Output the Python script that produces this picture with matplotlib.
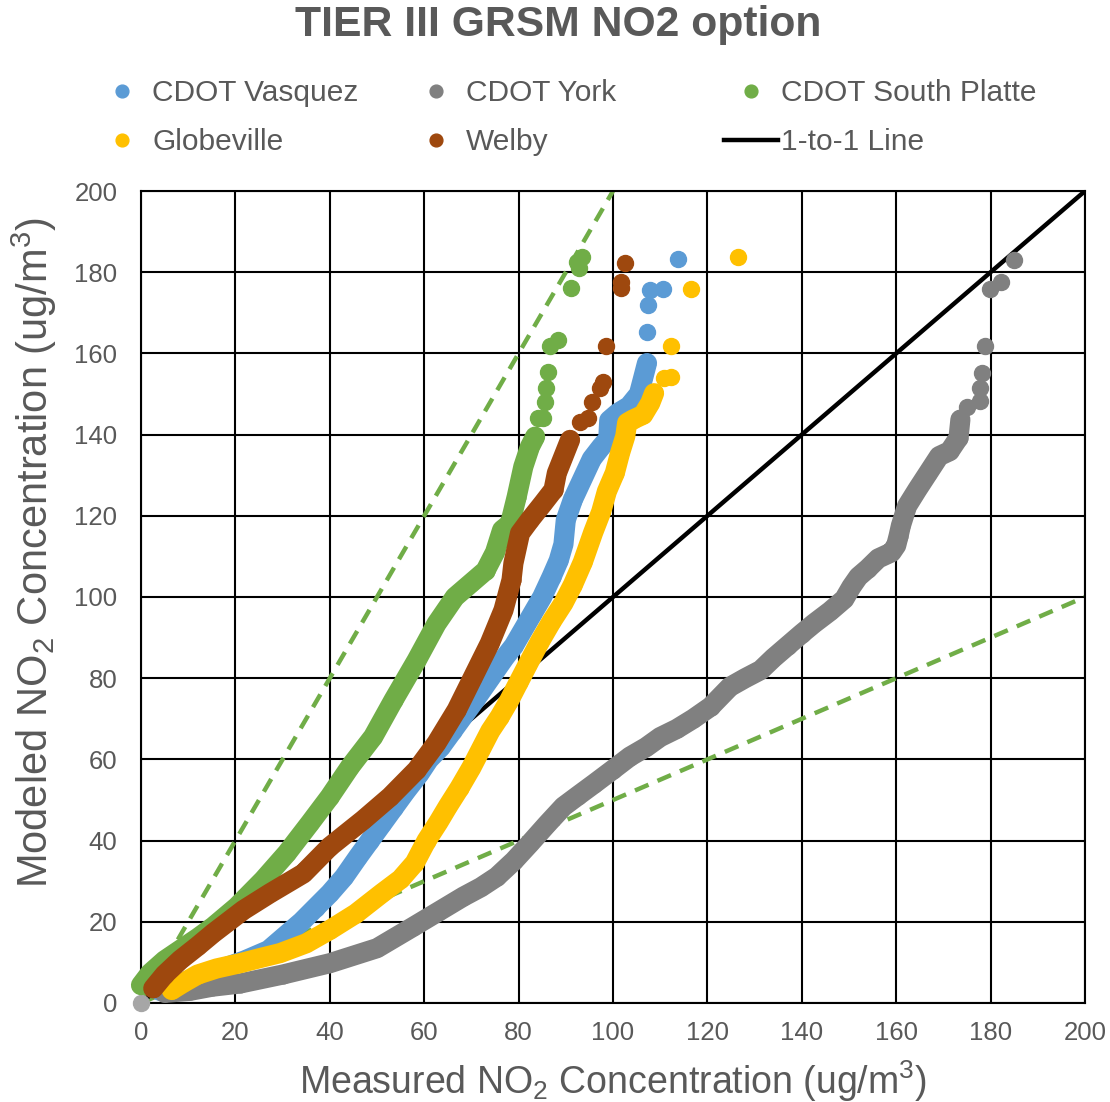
import matplotlib
matplotlib.use("Agg")
import matplotlib.pyplot as plt

plt.rcParams['font.family'] = ['Liberation Sans', 'DejaVu Sans']
plt.rcParams['mathtext.fontset'] = 'custom'
plt.rcParams['mathtext.rm'] = 'Liberation Sans'
plt.rcParams['mathtext.it'] = 'Liberation Sans:italic'
plt.rcParams['mathtext.bf'] = 'Liberation Sans:bold'

TEXT = '#595959'

# ---- Quantile pairs (measured, modeled) in ug/m3 ----
# dense: the continuous run of quantiles; top: the isolated highest quantiles
vasquez_x = [4, 10, 16, 22, 27, 31, 34, 37, 40, 43, 46, 48.5, 51, 53.5, 56, 59, 61, 63.5, 66, 68.5,
             71, 74, 77, 79, 81, 83, 85, 87, 88.5, 89.5, 90, 91.5, 93.5, 95.5, 97.5, 99, 99.2, 101,
             103.4, 105.5, 106.4, 107.2]
vasquez_y = [3, 5.5, 8, 10.5, 13, 17, 20, 23.5, 27, 31, 36, 40, 44, 48, 52, 56.5, 60, 63, 67, 71,
             75, 80, 85, 88, 92, 96, 100, 105, 109, 113, 119, 124, 129, 134, 137, 139, 143.5, 145.3,
             147, 150, 154, 157.6]
vasquez_top_x = [107.2, 107.5, 107.8, 110.6, 113.7]
vasquez_top_y = [165.3, 171.8, 175.5, 175.8, 183.3]

york_x = [5, 10.4, 15, 21, 30, 40, 50, 57.7, 63, 68.3, 72, 75.4, 79, 82.4, 86, 89.5, 92.5, 96, 100,
          103.6, 107, 110, 113.5, 117, 120.7, 124.8, 128, 131.3, 134, 137, 140, 142.6, 146, 149,
          150.5, 152, 154, 156.2, 159, 160, 160.5, 161, 162.3, 164.5, 166.8, 169.1, 171.3, 173.2,
          173.6]
york_y = [2.5, 3, 4, 4.8, 7, 9.8, 13.5, 18.8, 22.5, 26.2, 28.5, 31.1, 35, 39.3, 44, 48.4, 51, 54,
          57.5, 60.7, 63, 65.5, 67.5, 70, 73, 77.9, 80, 82, 85, 88, 91, 93.5, 96.5, 99.5, 102.5, 105,
          107, 109.5, 111, 112.7, 115, 117.6, 122.4, 126.5, 130.6, 134.7, 135.9, 139.2, 143.7]
york_top_x = [175.1, 177.7, 177.7, 178.1, 178.9, 179.8, 182.3, 184.9]
york_top_y = [146.9, 148.2, 151.4, 155.1, 161.8, 175.8, 177.6, 183.1]
york_min_x = [0]
york_min_y = [0]

platte_x = [0, 1.9, 5, 8.3, 12, 15.3, 20.3, 25.9, 30.9, 35.8, 40, 44.3, 49.2, 53.5, 58.4, 62.6,
            66.5, 70, 73, 75, 76.5, 78.2, 79.6, 81, 82.4, 83.5]
platte_y = [4.4, 7.3, 10.5, 13.1, 16, 18.8, 23.7, 30.3, 36.9, 44.3, 50.8, 58.2, 65.6, 74.6, 84.4,
            93.4, 100, 103.5, 106.5, 111, 116.5, 118.1, 124.7, 132.1, 137, 139.5]
platte_top_x = [84.2, 85.2, 85.6, 85.8, 86.3, 86.7, 88.4, 91, 92.7, 92.3, 93.4]
platte_top_y = [144, 144, 148.1, 151.4, 155.5, 161.7, 163.3, 176, 181, 182.6, 183.8]

globe_x = [6.5, 9, 12, 16, 21, 25, 29.5, 35, 40, 45.5, 51, 55, 58, 60.5, 63, 65, 67.5, 70, 72, 74,
           76, 78, 80, 82, 84.5, 87, 89.5, 91.5, 93.6, 95.8, 97.5, 98.7, 100.4, 101.5, 102.6, 103,
           104.2, 106.4, 107.9, 108.7]
globe_y = [3.2, 5, 7, 8.5, 9.8, 11, 12.3, 14.7, 18, 22, 27, 30.5, 34.5, 40, 44.5, 48.4, 53, 58,
           62.5, 67, 70.5, 74.5, 79, 83.5, 89, 94, 98.5, 103, 108.6, 115.9, 121, 126, 130.6, 135.5,
           139.6, 142.9, 143.7, 144.9, 147.8, 150.2]
globe_top_x = [110.9, 112.3, 112.2, 116.5, 126.4]
globe_top_y = [153.9, 154.3, 161.8, 175.9, 183.7]

welby_x = [2.6, 5, 8.3, 12, 15.3, 21.7, 27.3, 34.4, 40, 47.1, 52.8, 58.4, 62.6, 66.9, 70.4, 73.9,
           76.8, 78.5, 78.9, 80.3, 82.4, 85.2, 87.4, 88.1, 89.5, 90.9]
welby_y = [3.6, 7, 10.6, 14, 17.2, 22.9, 27, 31.9, 38.5, 45.1, 50.8, 57.4, 64, 72.2, 80.4, 88.6,
           96.8, 104.2, 108.3, 115.7, 119, 123.1, 126.4, 130.5, 134.6, 138.7]
welby_top_x = [93, 94.8, 95.5, 97.2, 97.9, 98.5, 101.8, 101.8, 102.5]
welby_top_y = [143.2, 144, 148.1, 151.4, 153, 161.7, 176, 177.7, 182.3]

# Reference lines
one_x = [0, 200]
one_y = [0, 200]
factor2_hi_x = [0, 100]
factor2_hi_y = [0, 200]
factor2_lo_x = [0, 200]
factor2_lo_y = [0, 100]

ticks = list(range(0, 201, 20))

series = [
    ('CDOT Vasquez', '#5B9BD5', vasquez_x, vasquez_y, vasquez_top_x, vasquez_top_y),
    ('CDOT York', '#808080', york_x, york_y, york_top_x, york_top_y),
    ('CDOT South Platte', '#70AD47', platte_x, platte_y, platte_top_x, platte_top_y),
    ('Globeville', '#FFC000', globe_x, globe_y, globe_top_x, globe_top_y),
    ('Welby', '#9E480E', welby_x, welby_y, welby_top_x, welby_top_y),
]

fig = plt.figure(figsize=(11.1, 11.02), dpi=100)
ax = fig.add_axes([141 / 1110, 99 / 1102, 944 / 1110, 812 / 1102])

ax.set_xlim(0, 200)
ax.set_ylim(0, 200)
ax.set_xticks(ticks)
ax.set_yticks(ticks)
ax.grid(True, color='black', lw=1.5)
ax.set_axisbelow(True)
for sp in ax.spines.values():
    sp.set_color('black')
    sp.set_linewidth(1.5)
ax.tick_params(length=0, labelsize=18.5, labelcolor=TEXT)
ax.tick_params(axis='x', pad=13)
ax.tick_params(axis='y', pad=17)

# factor-of-two envelope and 1-to-1 line
green = '#70AD47'
ax.plot(factor2_hi_x, factor2_hi_y, color=green, lw=3.2, ls=(0, (3.3, 2.2)), zorder=2)
ax.plot(factor2_lo_x, factor2_lo_y, color=green, lw=3.2, ls=(0, (3.3, 2.2)), zorder=2)
one_line, = ax.plot(one_x, one_y, color='black', lw=3.2, zorder=2, label='1-to-1 Line')

handles = {}
z = 3
ax.plot(york_min_x, york_min_y, 'o', color='#A6A6A6', ms=11.5, ls='none', zorder=z, clip_on=False)
for name, col, dx, dy, tx, ty in series:
    ax.plot(dx, dy, '-', color=col, lw=14.5, solid_capstyle='round', solid_joinstyle='round',
            zorder=z, clip_on=False)
    ax.plot(dx, dy, 'o', color=col, ms=12, ls='none', zorder=z, clip_on=False)
    h, = ax.plot(tx, ty, 'o', color=col, ms=11.5, ls='none', zorder=z, clip_on=False, label=name)
    handles[name] = h
    z += 1

legend_cols = [
    ([handles['CDOT Vasquez'], handles['Globeville']], 95 / 1110),
    ([handles['CDOT York'], handles['Welby']], 409 / 1110),
    ([handles['CDOT South Platte'], one_line], 724 / 1110),
]
for hs, x0 in legend_cols:
    leg = fig.legend(handles=hs, loc='upper left', bbox_to_anchor=(x0, 1 - 79 / 1102),
                     frameon=False, fontsize=21.5, handlelength=1.8, handletextpad=0.12,
                     borderpad=0, borderaxespad=0, labelspacing=0.72, markerscale=0.8)
    for t in leg.get_texts():
        t.set_color(TEXT)

fig.text(558 / 1110, 1 - 25 / 1102, 'TIER III GRSM NO2 option',
         ha='center', va='center', fontsize=30.7, fontweight='bold', color=TEXT)
fig.text(613 / 1110, 1 - 1081 / 1102, 'Measured NO$_2$ Concentration (ug/m$^3$)',
         ha='center', va='center', fontsize=27, color=TEXT)
fig.text(34 / 1110, 1 - 552 / 1102, 'Modeled NO$_2$ Concentration (ug/m$^3$)',
         ha='center', va='center', fontsize=30, color=TEXT, rotation=90)

fig.savefig('out.png', dpi=100)
